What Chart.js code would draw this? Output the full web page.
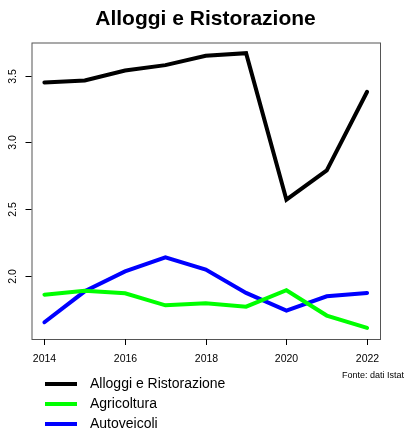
<!DOCTYPE html>
<html>
<head>
<meta charset="utf-8">
<script src="https://cdn.jsdelivr.net/npm/chart.js@4"></script>
<style>
  body { margin: 0; background: #fff; }
  canvas { display: block; }
</style>
</head>
<body>
<canvas id="myChart" width="405" height="431"></canvas>
<script>
const years = [2014, 2015, 2016, 2017, 2018, 2019, 2020, 2021, 2022];
const alloggi = [3.45, 3.465, 3.54, 3.58, 3.65, 3.67, 2.57, 2.79, 3.38];
const agricoltura = [1.857, 1.887, 1.867, 1.777, 1.792, 1.767, 1.89, 1.70, 1.607];
const autoveicoli = [1.65, 1.882, 2.032, 2.137, 2.045, 1.87, 1.737, 1.845, 1.87];
const xTicks = [2014, 2016, 2018, 2020, 2022];
const yTicks = [2.0, 2.5, 3.0, 3.5];

const FONT = 'Liberation Sans, Arial, Helvetica, sans-serif';

function toPoints(values) {
    return values.map((v, i) => ({ x: years[i], y: v }));
}

// R-style box, axes, title and legend drawn around the chart area
const baseGraphics = {
    id: 'baseGraphics',
    afterDraw(chart) {
        const ctx = chart.ctx;
        const area = chart.chartArea;
        const xs = chart.scales.x;
        const ys = chart.scales.y;
        ctx.save();

        ctx.strokeStyle = '#555';
        ctx.lineWidth = 1;
        ctx.strokeRect(area.left + 0.5, area.top + 0.5, area.right - area.left, area.bottom - area.top);

        ctx.strokeStyle = '#000';
        ctx.fillStyle = '#000';
        ctx.font = '10.5px ' + FONT;
        ctx.textAlign = 'center';
        ctx.textBaseline = 'middle';
        xTicks.forEach(t => {
            const px = Math.round(xs.getPixelForValue(t)) + 0.5;
            ctx.beginPath();
            ctx.moveTo(px, area.bottom);
            ctx.lineTo(px, area.bottom + 6);
            ctx.stroke();
            ctx.fillText(String(t), px, area.bottom + 20);
        });

        yTicks.forEach(t => {
            const py = Math.round(ys.getPixelForValue(t)) + 0.5;
            ctx.beginPath();
            ctx.moveTo(area.left, py);
            ctx.lineTo(area.left - 6, py);
            ctx.stroke();
            ctx.save();
            ctx.translate(13, py);
            ctx.rotate(-Math.PI / 2);
            ctx.fillText(t.toFixed(1), 0, 0);
            ctx.restore();
        });

        ctx.font = 'bold 21px ' + FONT;
        ctx.textAlign = 'center';
        ctx.textBaseline = 'alphabetic';
        ctx.fillText('Alloggi e Ristorazione', 205.5, 25);
        ctx.textBaseline = 'middle';

        ctx.font = '9px ' + FONT;
        ctx.textAlign = 'right';
        ctx.fillText('Fonte: dati Istat', 404, 376);

        ctx.font = '14px ' + FONT;
        ctx.textAlign = 'left';
        chart.data.datasets.forEach((ds, i) => {
            const y = 384 + i * 20;
            ctx.strokeStyle = ds.borderColor;
            ctx.lineWidth = 4;
            ctx.beginPath();
            ctx.moveTo(45, y);
            ctx.lineTo(77, y);
            ctx.stroke();
            ctx.fillStyle = '#000';
            ctx.fillText(ds.label, 90, y);
        });

        ctx.restore();
    }
};

new Chart(document.getElementById('myChart'), {
    type: 'line',
    data: {
        datasets: [
            { label: 'Alloggi e Ristorazione', data: toPoints(alloggi), borderColor: '#000000' },
            { label: 'Agricoltura', data: toPoints(agricoltura), borderColor: '#00ff00' },
            { label: 'Autoveicoli', data: toPoints(autoveicoli), borderColor: '#0000ff' }
        ]
    },
    options: {
        responsive: false,
        animation: false,
        layout: { padding: { left: 31.5, top: 42.5, right: 25, bottom: 92 } },
        elements: {
            line: { borderWidth: 4, tension: 0, borderCapStyle: 'round', borderJoinStyle: 'miter' },
            point: { radius: 0 }
        },
        scales: {
            x: { type: 'linear', min: 2013.68, max: 2022.32, display: false },
            y: { type: 'linear', min: 1.524, max: 3.75, display: false }
        },
        plugins: {
            legend: { display: false },
            tooltip: { enabled: false }
        }
    },
    plugins: [baseGraphics]
});
</script>
</body>
</html>
